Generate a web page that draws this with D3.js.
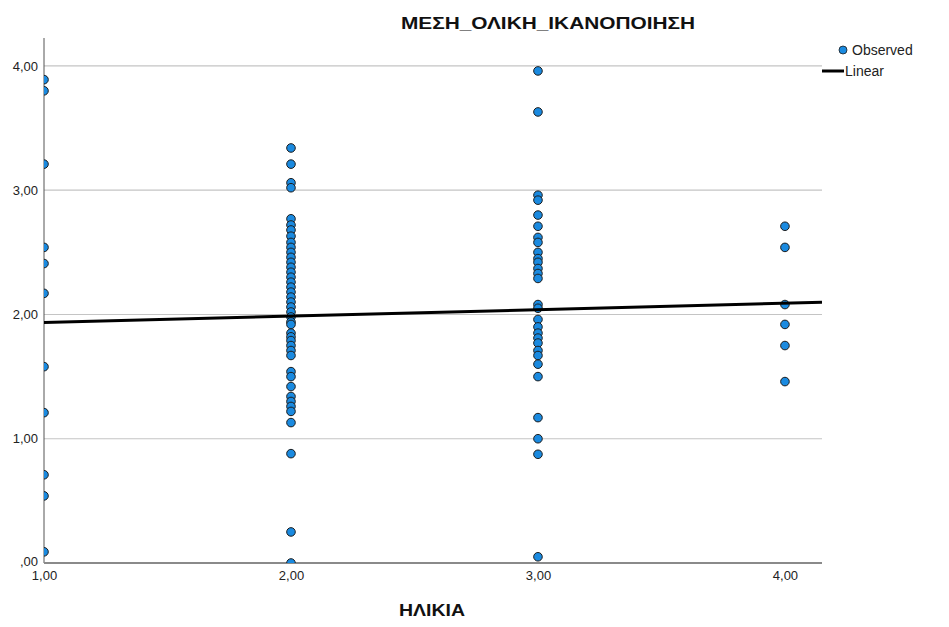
<!DOCTYPE html>
<html>
<head>
<meta charset="utf-8">
<script src="https://cdn.jsdelivr.net/npm/d3@7"></script>
<style>
  html, body { margin: 0; padding: 0; background: #fff; }
  svg { display: block; }
  .tick-label { font-family: "Liberation Sans", Arial, sans-serif; font-size: 13px; fill: #222; }
  .legend-label { font-family: "Liberation Sans", Arial, sans-serif; font-size: 14px; fill: #222; }
  .title { font-family: "Liberation Sans", Arial, sans-serif; font-weight: bold; font-size: 16px; fill: #111; }
</style>
</head>
<body>
<svg id="chart" width="949" height="627"></svg>
<script>
// Age group (ΗΛΙΚΙΑ) codes and the mean overall satisfaction observed for each respondent
const ageGroup1 = [3.89, 3.80, 3.21, 2.54, 2.41, 2.17, 1.58, 1.21, 0.71, 0.54, 0.09];
const ageGroup2 = [3.34, 3.21, 3.06, 3.02, 2.77, 2.72, 2.68, 2.63, 2.58, 2.54, 2.50, 2.46, 2.42,
                   2.38, 2.34, 2.30, 2.26, 2.22, 2.18, 2.14, 2.10, 2.06, 2.02, 1.98, 1.94, 1.92,
                   1.85, 1.82, 1.79, 1.75, 1.71, 1.67, 1.54, 1.50, 1.42, 1.34, 1.30, 1.26, 1.22,
                   1.13, 0.88, 0.25, 0.00];
const ageGroup3 = [3.96, 3.63, 2.96, 2.92, 2.80, 2.71, 2.62, 2.58, 2.50, 2.45, 2.42, 2.37, 2.33,
                   2.29, 2.08, 2.05, 1.96, 1.90, 1.85, 1.81, 1.77, 1.71, 1.67, 1.60, 1.50, 1.17,
                   1.00, 0.875, 0.05];
const ageGroup4 = [2.71, 2.54, 2.08, 1.92, 1.75, 1.46];
const groupCodes = [1, 2, 3, 4];

// Linear fit line end points
const fitX = [1, 4.15];
const fitY = [1.935, 2.098];

const xTicks = [1, 2, 3, 4];
const yTicks = [0, 1, 2, 3, 4];
const fmt = v => v === 0 ? ",00" : v.toFixed(2).replace(".", ",");

const titleText = "ΜΕΣΗ_ΟΛΙΚΗ_ΙΚΑΝΟΠΟΙΗΣΗ";
const xTitle = "ΗΛΙΚΙΑ";
const legendLabels = ["Observed", "Linear"];

const svg = d3.select("#chart");
const plot = { left: 44, right: 822, top: 38, bottom: 563 };

const x = d3.scaleLinear().domain([1, 4.15]).range([plot.left, plot.right]);
const y = d3.scaleLinear().domain([0, 4.225]).range([plot.bottom, plot.top]);

svg.append("rect").attr("width", 949).attr("height", 627).attr("fill", "#fff");

svg.append("defs").append("clipPath").attr("id", "plotClip")
  .append("rect")
  .attr("x", plot.left).attr("y", plot.top)
  .attr("width", plot.right - plot.left).attr("height", plot.bottom - plot.top);

// Horizontal grid lines
svg.append("g")
  .selectAll("line")
  .data(yTicks.filter(d => d > 0))
  .join("line")
  .attr("x1", plot.left).attr("x2", plot.right)
  .attr("y1", d => y(d)).attr("y2", d => y(d))
  .attr("stroke", "#c4c4c4").attr("stroke-width", 1.2);

// Y axis
const yAxis = svg.append("g")
  .attr("transform", `translate(${plot.left},0)`)
  .call(d3.axisLeft(y).tickValues(yTicks).tickFormat(fmt).tickSize(0).tickPadding(6));
yAxis.select(".domain").remove();
yAxis.selectAll("text").attr("class", "tick-label").attr("dy", "0.32em")
  .attr("transform", d => d === 0 ? "translate(0,-2)" : null);

// X axis
const xAxis = svg.append("g")
  .attr("transform", `translate(0,${plot.bottom})`)
  .call(d3.axisBottom(x).tickValues(xTicks).tickFormat(fmt).tickSize(0).tickPadding(8));
xAxis.select(".domain").remove();
xAxis.selectAll("text").attr("class", "tick-label");

// Axis lines
svg.append("line")
  .attr("x1", plot.left).attr("x2", plot.left)
  .attr("y1", plot.top).attr("y2", plot.bottom)
  .attr("stroke", "#555").attr("stroke-width", 1);
svg.append("line")
  .attr("x1", plot.left).attr("x2", plot.right)
  .attr("y1", plot.bottom).attr("y2", plot.bottom)
  .attr("stroke", "#8a8a8a").attr("stroke-width", 2);

// Observed points
const points = [ageGroup1, ageGroup2, ageGroup3, ageGroup4]
  .flatMap((vals, i) => vals.map(v => ({ g: groupCodes[i], v })));

const pointColor = "#1a8ae0";
svg.append("g")
  .attr("clip-path", "url(#plotClip)")
  .selectAll("circle")
  .data(points)
  .join("circle")
  .attr("cx", d => x(d.g))
  .attr("cy", d => y(d.v))
  .attr("r", 4.3)
  .attr("fill", pointColor)
  .attr("stroke", "#1c1c1c")
  .attr("stroke-width", 1);

// Linear fit
svg.append("g")
  .attr("clip-path", "url(#plotClip)")
  .append("path")
  .datum(fitX.map((d, i) => [d, fitY[i]]))
  .attr("d", d3.line().x(d => x(d[0])).y(d => y(d[1])))
  .attr("fill", "none")
  .attr("stroke", "#000")
  .attr("stroke-width", 3);

// Titles
svg.append("text").attr("class", "title")
  .attr("x", 548).attr("y", 29).attr("text-anchor", "middle")
  .attr("textLength", 294).attr("lengthAdjust", "spacingAndGlyphs")
  .text(titleText);
svg.append("text").attr("class", "title")
  .attr("x", 432).attr("y", 616).attr("text-anchor", "middle")
  .attr("textLength", 66).attr("lengthAdjust", "spacingAndGlyphs")
  .text(xTitle);

// Legend
const legend = svg.append("g");
legend.append("circle").attr("cx", 843).attr("cy", 50).attr("r", 4)
  .attr("fill", pointColor).attr("stroke", "#1c1c1c").attr("stroke-width", 0.8);
legend.append("text").attr("class", "legend-label").attr("x", 852).attr("y", 55).text(legendLabels[0]);
legend.append("line").attr("x1", 822).attr("x2", 844).attr("y1", 71).attr("y2", 71)
  .attr("stroke", "#000").attr("stroke-width", 3);
legend.append("text").attr("class", "legend-label").attr("x", 845).attr("y", 76).text(legendLabels[1]);
</script>
</body>
</html>
